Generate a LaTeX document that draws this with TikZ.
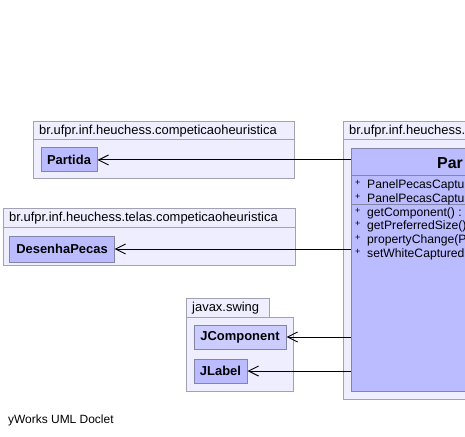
\documentclass[tikz,border=0pt]{standalone}
\usepackage{fontspec}
\setmainfont{Liberation Sans}
\usetikzlibrary{arrows.meta}
\definecolor{pkgfill}{HTML}{EEEEFF}
\definecolor{pkgline}{HTML}{A2A2B2}
\definecolor{classfill}{HTML}{BBBBFF}
\definecolor{classlight}{HTML}{CCCCFF}
\definecolor{classline}{HTML}{8484A8}
\newcommand{\pkgfont}{\fontsize{13}{15}\selectfont}
\newcommand{\namefont}{\bfseries\fontsize{13}{15}\selectfont}
\newcommand{\rowfont}{\fontsize{12.2}{14}\selectfont}

\tikzset{
  pkg/.style={fill=pkgfill, draw=pkgline, line width=1bp},
  pkglabel/.style={anchor=west, inner sep=0pt, font=\pkgfont},
  classbox/.style={fill=classfill, draw=classline, line width=1bp, inner sep=0pt,
    font=\namefont, minimum height=24bp},
  rowtext/.style={anchor=west, inner sep=0pt, font=\rowfont},
  dep/.style={->, line width=1bp}
}

\begin{document}
\begin{tikzpicture}[x=1bp, y=-1bp, >={Straight Barb[length=10bp,width=10bp]}]
        \useasboundingbox (0,0) rectangle (465,437);

        % packages
        \filldraw[pkg] (33,122) rectangle (294,179);
        \draw[pkgline, line width=1bp] (33,140) -- (294,140);
        \node[pkglabel] (pkgpartida) at (39,131) {br.ufpr.inf.heuchess.competicaoheuristica};

        \filldraw[pkg] (3,209) rectangle (295,265);
        \draw[pkgline, line width=1bp] (3,227) -- (295,227);
        \node[pkglabel] (pkgtelas) at (9,218) {br.ufpr.inf.heuchess.telas.competicaoheuristica};

        \filldraw[pkg] (186,298) rectangle (269,317);
        \filldraw[pkg] (186,317) rectangle (293,391);
        \node[pkglabel] (pkgswing) at (192,308) {javax.swing};

        \filldraw[pkg] (343,122) rectangle (520,399);
        \draw[pkgline, line width=1bp] (343,140) -- (520,140);
        \node[pkglabel] (pkgpanel) at (349,131) {br.ufpr.inf.heuchess.telas};

        % classes
        \node[classbox, minimum width=56bp] (partida) at (69,160) {Partida};
        \node[classbox, minimum width=104bp, minimum height=26bp] (desenha) at (62,249) {DesenhaPecas};
        \node[classbox, fill=classlight, minimum width=92bp] (jcomp) at (240,337) {JComponent};
        \node[classbox, minimum width=53bp] (jlabel) at (220.5,371) {JLabel};

        % main class
        \node[classbox, anchor=north west, minimum width=160bp, minimum height=243bp] (panel) at (351,148) {};
        \draw[classline, line width=1bp] (351,176) -- (520,176);
        \draw[classline, line width=1bp] (351,205) -- (520,205);
        \node[anchor=west, inner sep=0pt, font=\bfseries\fontsize{16}{18}\selectfont] (panelname) at (437,163) {Par};
        \foreach \y/\txt [count=\i] in {185/PanelPecasCapturadas, 199/PanelPecasCapturadas,
            213/getComponent() :, 226/getPreferredSize(), 240/propertyChange(P, 254/setWhiteCaptured}{
          \node[rowtext, font=\fontsize{9}{10}\selectfont] (plus\i) at (355,\y-2) {+};
          \node[rowtext] (row\i) at (367,\y) {\txt};
        }

        % dependencies
        \draw[dep] (partida.east -| panel.west) -- (partida.east);
        \draw[dep] (desenha.east -| panel.west) -- (desenha.east);
        \draw[dep] (jcomp.east -| panel.west) -- (jcomp.east);
        \draw[dep] (jlabel.east -| panel.west) -- (jlabel.east);

        \node[anchor=west, inner sep=0pt, font=\fontsize{12}{14}\selectfont] (doclet) at (8,420) {yWorks UML Doclet};
    \end{tikzpicture}
\end{document}
